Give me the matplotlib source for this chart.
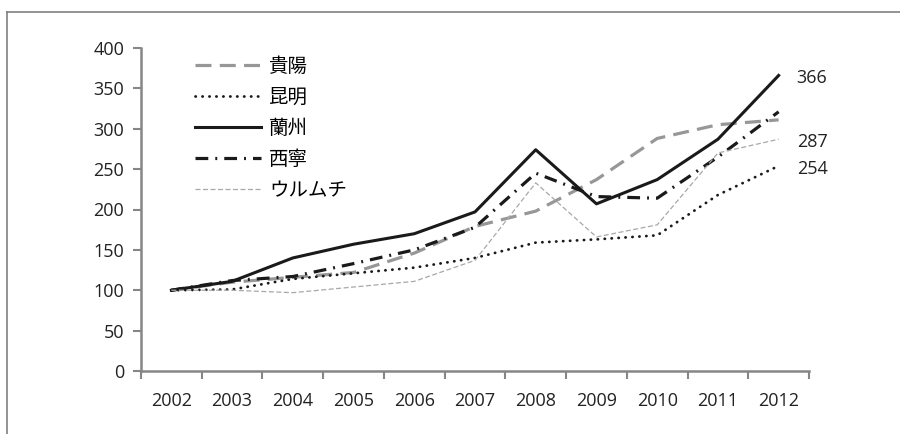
import numpy as np
import matplotlib
matplotlib.use("Agg")
import matplotlib.pyplot as plt
from matplotlib.lines import Line2D

plt.rcParams['font.family'] = ['Open Sans', 'Noto Sans CJK JP', 'DejaVu Sans']

years = ['2002', '2003', '2004', '2005', '2006', '2007', '2008', '2009', '2010', '2011', '2012']
guiyang = [100, 110, 116, 122, 146, 179, 198, 237, 288, 305, 311]
kunming = [100, 101, 114, 121, 128, 140, 159, 163, 168, 218, 254]
lanzhou = [100, 111, 140, 157, 170, 197, 274, 207, 237, 287, 366]
xining = [100, 112, 117, 133, 150, 178, 245, 216, 214, 265, 321]
urumqi = [100, 100, 97, 104, 111, 137, 233, 166, 181, 270, 287]
names = ['貴陽', '昆明', '蘭州', '西寧', 'ウルムチ']
endLabels = {'蘭州': 366, 'ウルムチ': 287, '昆明': 254}

fig = plt.figure(figsize=(9, 4.34), dpi=100)
ax = fig.add_axes([141/900, 1-371/434, (809-141)/900, (371-48)/434])

# outer frame (only left and top edges are visible)
fig.add_artist(Line2D([7/900, 7/900], [0, 1-12/434], color='#808080', lw=1.2, transform=fig.transFigure))
fig.add_artist(Line2D([7/900, 1], [1-12/434, 1-12/434], color='#808080', lw=1.2, transform=fig.transFigure))

x = np.arange(len(years))
ax.plot(x, guiyang, color='#979797', lw=2.3, dashes=(5, 2.6), label=names[0])
ax.plot(x, kunming, color='#1a1a1a', lw=2.0, dashes=(0.1, 2.4), dash_capstyle='round', label=names[1])
ax.plot(x, lanzhou, color='#1a1a1a', lw=2.2, label=names[2])
ax.plot(x, xining, color='#1a1a1a', lw=2.3, dashes=(4, 2.2, 0.6, 2.2), label=names[3])
ax.plot(x, urumqi, color='#a8a8a8', lw=0.9, dashes=(4, 2), label=names[4])

series = dict(zip(names, [guiyang, kunming, lanzhou, xining, urumqi]))
for n, v in endLabels.items():
    ax.annotate(str(v), (x[-1], series[n][-1]), xytext=(13, -2), textcoords='offset points',
                va='center', ha='left', fontsize=13, color='#222222', annotation_clip=False)

ax.set_xlim(-0.5, len(years) - 0.5)
ax.set_ylim(0, 400)
ax.set_yticks(np.arange(0, 401, 50))
ax.set_xticks(x)
ax.set_xticklabels(years)
ax.set_xticks(np.arange(-0.5, len(years)), minor=True)
ax.tick_params(axis='x', which='major', length=0, pad=15, labelsize=13, labelcolor='#222222')
ax.tick_params(axis='x', which='minor', length=6, width=1.5, color='#868686', direction='out')
ax.tick_params(axis='y', length=6, width=1.5, color='#868686', direction='out', pad=6,
               labelsize=13, labelcolor='#222222')
for s in ['top', 'right']:
    ax.spines[s].set_visible(False)
for s in ['left', 'bottom']:
    ax.spines[s].set_color('#868686')
    ax.spines[s].set_linewidth(1.8)

ax.legend(loc='upper left', bbox_to_anchor=(195/900, 1-57/434), bbox_transform=fig.transFigure,
          frameon=False, fontsize=14, handlelength=3.4, handletextpad=0.4, labelspacing=0.66,
          borderpad=0, borderaxespad=0)

fig.savefig('out.png', dpi=100)
